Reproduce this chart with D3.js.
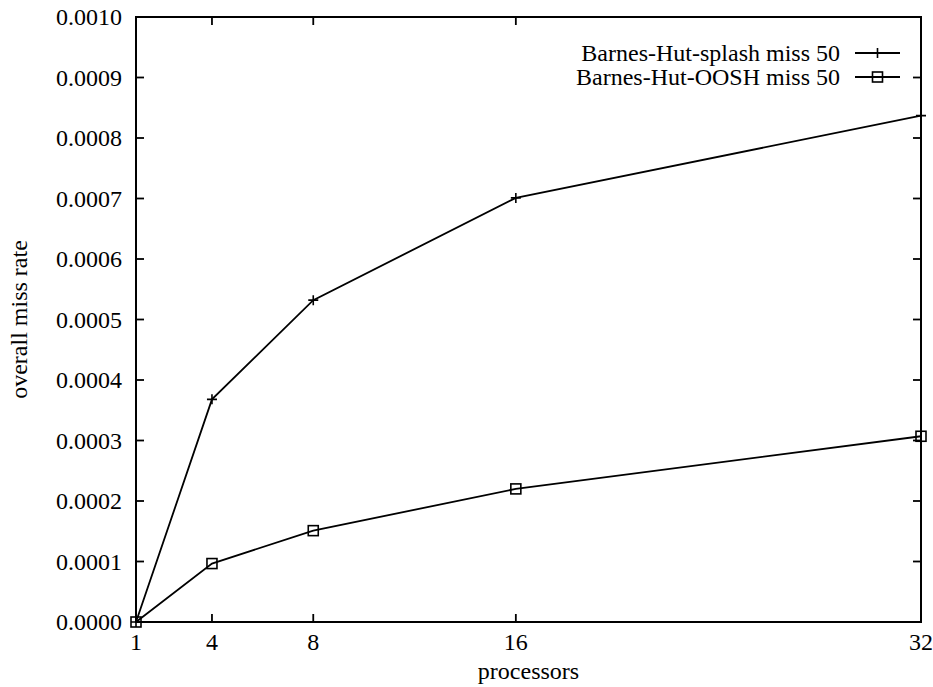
<!DOCTYPE html>
<html><head><meta charset="utf-8">
<script src="https://cdn.jsdelivr.net/npm/d3@7/dist/d3.min.js"></script>
<style>body{margin:0;background:#fff}text{font-family:"Liberation Serif","Times New Roman",serif;fill:#000}</style>
</head><body><svg id="c" width="933" height="687"></svg>
<script>
const processors = [1, 4, 8, 16, 32];
const splash = [0.0, 0.000368, 0.000532, 0.000701, 0.000837];
const oosh = [0.0, 0.0000966, 0.000151, 0.000220, 0.000307];
const xTicks = [1, 4, 8, 16, 32];
const yTicks = [0, 0.0001, 0.0002, 0.0003, 0.0004, 0.0005, 0.0006, 0.0007, 0.0008, 0.0009, 0.0010];
const seriesNames = ["Barnes-Hut-splash miss 50", "Barnes-Hut-OOSH miss 50"];

const L = 136, R = 921, T = 17, B = 622;
const svg = d3.select("#c");
const x = d3.scaleLinear().domain([1, 32]).range([L, R]);
const y = d3.scaleLinear().domain([0, 0.001]).range([B, T]);
const fs = 24;

// frame
svg.append("rect").attr("x", L).attr("y", T).attr("width", R - L).attr("height", B - T)
  .attr("fill", "none").attr("stroke", "#000").attr("stroke-width", 2);

// ticks
const tk = 8;
yTicks.forEach(v => {
  svg.append("line").attr("x1", L).attr("x2", L + tk).attr("y1", y(v)).attr("y2", y(v)).attr("stroke", "#000").attr("stroke-width", 1.8);
  svg.append("line").attr("x1", R).attr("x2", R - tk).attr("y1", y(v)).attr("y2", y(v)).attr("stroke", "#000").attr("stroke-width", 1.8);
  svg.append("text").attr("x", L - 14).attr("y", y(v) + 8).attr("text-anchor", "end")
    .attr("font-size", fs).text(v.toFixed(4));
});
xTicks.forEach(v => {
  svg.append("line").attr("x1", x(v)).attr("x2", x(v)).attr("y1", B).attr("y2", B - tk).attr("stroke", "#000").attr("stroke-width", 1.8);
  svg.append("line").attr("x1", x(v)).attr("x2", x(v)).attr("y1", T).attr("y2", T + tk).attr("stroke", "#000").attr("stroke-width", 1.8);
  svg.append("text").attr("x", x(v)).attr("y", B + 28).attr("text-anchor", "middle")
    .attr("font-size", fs).text(v);
});

// labels
svg.append("text").attr("x", (L + R) / 2).attr("y", 679).attr("text-anchor", "middle").attr("font-size", fs).text("processors");
svg.append("text").attr("transform", `translate(27,${(T + B) / 2}) rotate(-90)`).attr("text-anchor", "middle").attr("font-size", fs).text("overall miss rate");

const line = d3.line().x((d, i) => x(processors[i])).y(d => y(d));
function plus(g, cx, cy) {
  g.append("path").attr("d", `M${cx - 5},${cy}H${cx + 5}M${cx},${cy - 5}V${cy + 5}`).attr("stroke", "#000").attr("stroke-width", 1.6);
}
function square(g, cx, cy) {
  g.append("rect").attr("x", cx - 5).attr("y", cy - 5).attr("width", 10).attr("height", 10)
    .attr("fill", "none").attr("stroke", "#000").attr("stroke-width", 1.6);
}
[splash, oosh].forEach((s, k) => {
  svg.append("path").attr("d", line(s)).attr("fill", "none").attr("stroke", "#000").attr("stroke-width", 1.8);
  s.forEach((v, i) => (k === 0 ? plus : square)(svg, x(processors[i]), y(v)));
});

// legend
const legY = [53, 77];
seriesNames.forEach((n, k) => {
  svg.append("text").attr("x", 840).attr("y", legY[k] + 8).attr("text-anchor", "end").attr("font-size", fs).text(n);
  svg.append("line").attr("x1", 855).attr("x2", 900).attr("y1", legY[k]).attr("y2", legY[k]).attr("stroke", "#000").attr("stroke-width", 1.8);
  (k === 0 ? plus : square)(svg, 877.5, legY[k]);
});
</script></body></html>
